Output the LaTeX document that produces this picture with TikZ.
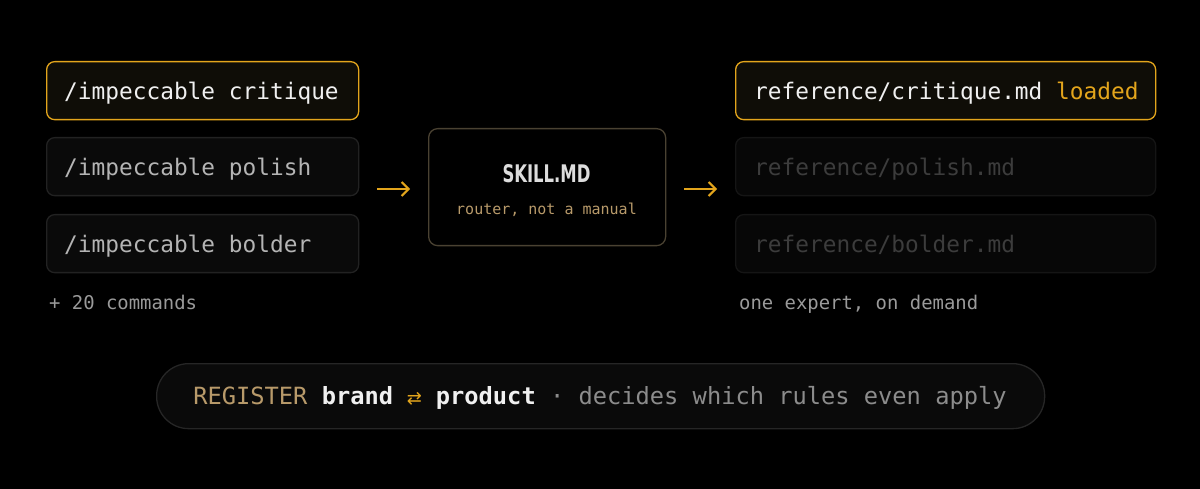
\documentclass[tikz,border=0pt]{standalone}
\usepackage{fontspec}
\setmonofont{DejaVu Sans Mono}
\newfontfamily\djsans{DejaVu Sans}
\newfontfamily\djcond{DejaVu Sans Condensed}
\usetikzlibrary{arrows.meta}
\definecolor{bg}{HTML}{000000}
\definecolor{gold}{HTML}{E3A51C}
\definecolor{activefill}{HTML}{0F0D07}
\definecolor{boxfill}{HTML}{0A0A0A}
\definecolor{boxline}{HTML}{222222}
\definecolor{dimfill}{HTML}{070707}
\definecolor{dimline}{HTML}{151515}
\definecolor{bright}{HTML}{F0F0F0}
\definecolor{mid}{HTML}{B4B4B4}
\definecolor{dimtext}{HTML}{3C3C3C}
\definecolor{note}{HTML}{9A9A9A}
\definecolor{tan}{HTML}{B89A6A}
\definecolor{skilline}{HTML}{4A4232}
\definecolor{pillline}{HTML}{262626}
\definecolor{greytext}{HTML}{8C8C8C}
\tikzset{
  cmdbox/.style={rounded corners=8pt, line width=1.3pt, minimum height=58pt, inner sep=0pt, anchor=north west},
  activebox/.style={cmdbox, draw=gold, fill=activefill},
  idlebox/.style={cmdbox, draw=boxline, fill=boxfill},
  dimbox/.style={cmdbox, draw=dimline, fill=dimfill},
  cmdtext/.style={anchor=base west, inner sep=0pt, font=\ttfamily\fontsize{22.8}{26}\selectfont},
  notetext/.style={anchor=base west, inner sep=0pt, text=note, font=\ttfamily\fontsize{18.9}{22}\selectfont},
  flow/.style={draw=gold, line width=2pt, -{Straight Barb[length=7pt,width=14pt,line width=2pt]}, shorten <=18pt, shorten >=18pt},
}
\begin{document}
\begin{tikzpicture}[x=1pt,y=-1pt]
\path[use as bounding box, fill=bg] (0,0) rectangle (1200,489);
% left commands
\node[activebox, minimum width=312pt] (c1) at (46,61) {};
\node[idlebox, minimum width=312pt] (c2) at (46,137) {};
\node[idlebox, minimum width=312pt] (c3) at (46,214) {};
\node[cmdtext, text=bright] (c1t) at (64,100) {/impeccable critique};
\node[cmdtext, text=mid] (c2t) at (64,176) {/impeccable polish};
\node[cmdtext, text=mid] (c3t) at (64,253) {/impeccable bolder};
\node[notetext] (more) at (49,309) {+ 20 commands};
% skill box
\node[draw=skilline, fill=black, line width=1.3pt, rounded corners=9pt, minimum width=237pt, minimum height=117pt, anchor=north west] (skill) at (428,128) {};
\node[anchor=base, inner sep=0pt, text=bright!92!black] (skilltitle) at (546.5,183) {\resizebox{88pt}{18pt}{\djcond\bfseries SKILL.MD}};
\node[anchor=base, inner sep=0pt, text=tan, font=\ttfamily\fontsize{15}{18}\selectfont] (skillsub) at (546.5,215) {router, not a manual};
% right references
\node[activebox, minimum width=420pt] (r1) at (735,61) {};
\node[dimbox, minimum width=420pt] (r2) at (735,137) {};
\node[dimbox, minimum width=420pt] (r3) at (735,214) {};
\node[cmdtext, text=bright] (r1t) at (754,100) {reference/critique.md \textcolor{gold}{loaded}};
\node[cmdtext, text=dimtext] (r2t) at (754,176) {reference/polish.md};
\node[cmdtext, text=dimtext] (r3t) at (754,253) {reference/bolder.md};
\node[notetext] (expert) at (739,309) {one expert, on demand};
% arrows
\coordinate (la) at (c2.east |- 0,189);
\coordinate (ra) at (r2.west |- 0,189);
\coordinate (sl) at (skill.west |- 0,189);
\coordinate (sr) at (skill.east |- 0,189);
\draw[flow] (la) -- (sl);
\draw[flow] (sr) -- (ra);
% register pill
\node[draw=pillline, fill=boxfill, line width=1.3pt, rounded corners=32pt, minimum width=888pt, minimum height=65pt, anchor=north west] (pill) at (156,363) {};
\node[anchor=base, inner sep=0pt, font=\ttfamily\fontsize{23.7}{28}\selectfont] (register) at (600,404)
 {\textcolor{tan}{REGISTER} \textcolor{bright}{\bfseries brand} \makebox[0.602em]{\textcolor{gold}{\djsans\fontsize{18}{20}\selectfont ⇄}} \textcolor{bright}{\bfseries product} \textcolor{greytext}{· decides which rules even apply}};
\end{tikzpicture}
\end{document}
